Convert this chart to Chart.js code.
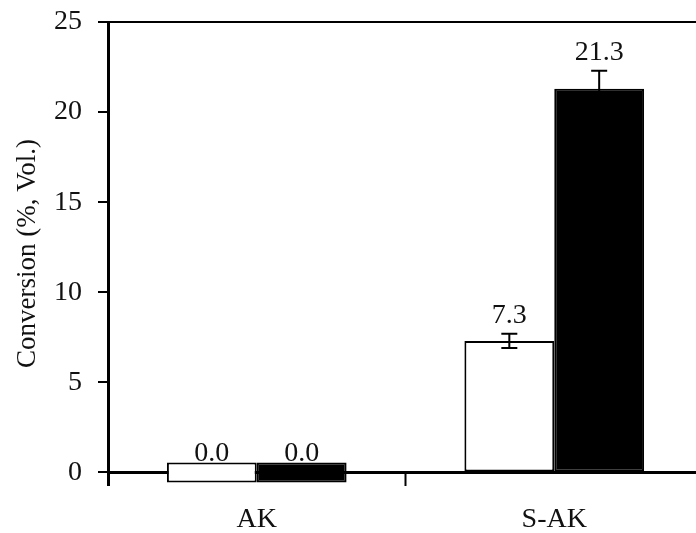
<!DOCTYPE html>
<html>
<head>
<meta charset="utf-8">
<script src="https://cdn.jsdelivr.net/npm/chart.js@4/dist/chart.umd.min.js"></script>
<style>
  html, body { margin: 0; padding: 0; background: #fff; overflow: hidden; }
  #wrap { width: 696px; height: 533px; overflow: hidden; }
</style>
</head>
<body>
<div id="wrap"><canvas id="myChart" width="710" height="533"></canvas></div>
<script>
// categories and values
var categories = ['AK', 'S-AK'];
var openValues = [0.0, 7.3];     // white bars
var solidValues = [0.0, 21.3];   // black bars
var openErr = [0, 0.4];
var solidErr = [0, 1.0];
var yTickValues = [0, 5, 10, 15, 20, 25];

var serif = '"Liberation Serif", "Times New Roman", serif';

// error bars + value labels on top of each bar
var barExtras = {
  id: 'barExtras',
  afterDatasetsDraw: function(chart) {
    var ctx = chart.ctx;
    var y = chart.scales.y;
    var errs = [openErr, solidErr];
    ctx.save();
    chart.data.datasets.forEach(function(ds, di) {
      var meta = chart.getDatasetMeta(di);
      meta.data.forEach(function(bar, i) {
        var v = ds.data[i];
        var e = errs[di][i];
        var top = Math.min(bar.y, y.getPixelForValue(v + e));
        if (e > 0) {
          var hi = y.getPixelForValue(v + e);
          var lo = y.getPixelForValue(v - e);
          ctx.strokeStyle = '#000';
          ctx.lineWidth = 2;
          ctx.beginPath();
          ctx.moveTo(bar.x, hi); ctx.lineTo(bar.x, lo);
          ctx.moveTo(bar.x - 8, hi); ctx.lineTo(bar.x + 8, hi);
          ctx.moveTo(bar.x - 8, lo); ctx.lineTo(bar.x + 8, lo);
          ctx.stroke();
        }
        ctx.fillStyle = '#111';
        ctx.font = '28px ' + serif;
        ctx.textAlign = 'center';
        ctx.textBaseline = 'alphabetic';
        ctx.fillText(v.toFixed(1), bar.x, top - 11);
      });
    });
    ctx.restore();
  }
};

var ctx = document.getElementById('myChart').getContext('2d');
var myChart = new Chart(ctx, {
  type: 'bar',
  data: {
    labels: categories,
    datasets: [{
      data: openValues,
      backgroundColor: '#fff',
      borderColor: '#000',
      borderWidth: 2,
      borderSkipped: false,
      minBarLength: 20
    }, {
      data: solidValues,
      backgroundColor: '#000',
      borderColor: '#000',
      borderWidth: 2,
      borderSkipped: false,
      minBarLength: 20
    }]
  },
  options: {
    responsive: false,
    animation: false,
    layout: { padding: { top: 22, right: 7, bottom: 48, left: 0 } },
    datasets: { bar: { barPercentage: 1, categoryPercentage: 0.604 } },
    plugins: { legend: { display: false }, tooltip: { enabled: false } },
    scales: {
      x: {
        position: { y: 0 },
        offset: true,
        border: { display: true, color: '#000', width: 3 },
        grid: {
          offset: true,
          drawOnChartArea: false,
          drawTicks: true,
          tickLength: 12,
          tickColor: '#000',
          tickWidth: 2
        },
        ticks: { color: '#111', padding: 18, font: { family: serif, size: 28 } }
      },
      y: {
        min: -0.7,
        max: 25,
        afterBuildTicks: function(scale) {
          scale.ticks = yTickValues.map(function(v) { return { value: v }; });
        },
        afterFit: function(scale) {
          scale.width = 108;
          scale.paddingTop = 0;
          scale.paddingBottom = 0;
        },
        border: { display: true, color: '#000', width: 3 },
        grid: {
          drawTicks: true,
          tickLength: 10,
          tickColor: '#000',
          tickWidth: 2,
          lineWidth: 2,
          color: function(c) { return c.tick && c.tick.value === 25 ? '#000' : 'rgba(0,0,0,0)'; }
        },
        ticks: { color: '#111', padding: 16, font: { family: serif, size: 28 } },
        title: {
          display: true,
          text: 'Conversion (%, Vol.)',
          color: '#111',
          padding: { top: 12, bottom: 0 },
          font: { family: serif, size: 27 }
        }
      }
    }
  },
  plugins: [barExtras]
});
</script>
</body>
</html>
